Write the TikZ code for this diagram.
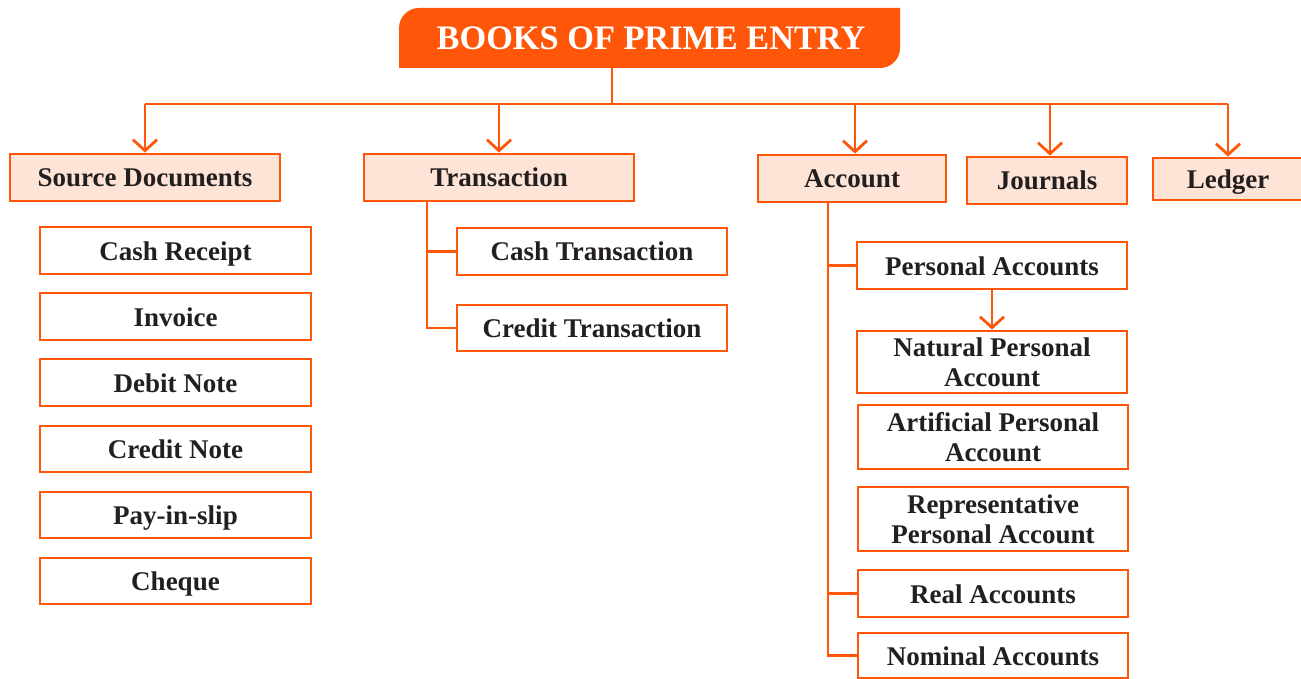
\documentclass[tikz,border=0pt]{standalone}
\usepackage{fontspec}
\setmainfont{Liberation Serif}
\usetikzlibrary{arrows.meta}
\definecolor{org}{HTML}{FF560A}
\definecolor{peach}{HTML}{FDE4D6}
\definecolor{ink}{HTML}{231F20}
\tikzset{
  box/.style={draw=org, line width=2.8pt, inner sep=0pt, text=ink, align=center,
    text height=24pt, text depth=5pt,
    font=\fontsize{27}{30}\selectfont\bfseries},
  two/.style={text height={}, text depth={}},
  head/.style={box, fill=peach},
  leaf/.style={box, fill=white},
  link/.style={draw=org, line width=2.8pt},
  arr/.style={link, -{Straight Barb[length=11pt,width=24pt,line width=2.8pt]}}
}
\newcommand{\bx}[7]{% style, name, x1, y1, x2, y2, text
  \node[#1, minimum width={#5-#3}, minimum height={#6-#4}] (#2) at ({(#3+#5)/2},{-(#4+#6)/2}) {#7};}
\begin{document}
\begin{tikzpicture}[x=1pt,y=1pt]
\useasboundingbox (0,0) rectangle (1301,-679);
% title
\fill[org] (399,-68) -- (399,-28) arc[start angle=180,end angle=90,radius=20] -- (900,-8)
  -- (900,-48) arc[start angle=0,end angle=-90,radius=20] -- cycle;
\node[text=white, inner sep=0pt, minimum width=501, minimum height=60,
  text height=27pt, text depth=3pt,
  font=\fontsize{34.3}{36}\selectfont\bfseries] (title) at (651,-38) {BOOKS OF PRIME ENTRY};
\coordinate (titlebot) at (612,-68);
\coordinate (bus) at (612,-104);
% heads
\bx{head}{src}{10}{154}{280}{201}{Source Documents}
\bx{head}{trans}{364}{154}{634}{201}{Transaction}
\bx{head}{acc}{758}{155}{946}{202}{Account}
\bx{head}{jour}{967}{157}{1127}{204}{Journals}
\bx{head}{led}{1153}{158}{1303}{200}{Ledger}
% source documents
\bx{leaf}{s1}{40}{227}{311}{274}{Cash Receipt}
\bx{leaf}{s2}{40}{293}{311}{340}{Invoice}
\bx{leaf}{s3}{40}{359}{311}{406}{Debit Note}
\bx{leaf}{s4}{40}{426}{311}{472}{Credit Note}
\bx{leaf}{s5}{40}{492}{311}{538}{Pay-in-slip}
\bx{leaf}{s6}{40}{558}{311}{604}{Cheque}
% transactions
\bx{leaf}{t1}{457}{228}{727}{275}{Cash Transaction}
\bx{leaf}{t2}{457}{305}{727}{351}{Credit Transaction}
% accounts
\bx{leaf}{a1}{857}{242}{1127}{289}{Personal Accounts}
\bx{leaf,two}{a2}{857}{331}{1127}{393}{Natural Personal\\Account}
\bx{leaf,two}{a3}{858}{405}{1128}{469}{Artificial Personal\\Account}
\bx{leaf,two}{a4}{858}{487}{1128}{551}{Representative\\Personal Account}
\bx{leaf}{a5}{858}{570}{1128}{617}{Real Accounts}
\bx{leaf}{a6}{858}{633}{1128}{678}{Nominal Accounts}
% connectors from title
\draw[link] (titlebot) -- (bus);
\draw[link] (src.north |- bus) -- (led.north |- bus);
\draw[arr] (src.north |- bus) -- (src.north);
\draw[arr] (trans.north |- bus) -- (trans.north);
\draw[arr] ([xshift=3pt]acc.north |- bus) -- ([xshift=3pt]acc.north);
\draw[arr] ([xshift=3pt]jour.north |- bus) -- ([xshift=3pt]jour.north);
\draw[arr] (led.north |- bus) -- (led.north);
% transaction tree
\coordinate (tx) at ([xshift=-72pt]trans.south);
\draw[link] (tx) |- (t2.west);
\draw[link] (tx |- t1.west) -- (t1.west);
% account tree
\coordinate (ax) at ([xshift=-24pt]acc.south);
\draw[link] (ax) |- (a6.west);
\draw[link] (ax |- a1.west) -- (a1.west);
\draw[link] (ax |- a5.west) -- (a5.west);
\draw[arr] (a1.south) -- (a2.north);
\end{tikzpicture}
\end{document}
